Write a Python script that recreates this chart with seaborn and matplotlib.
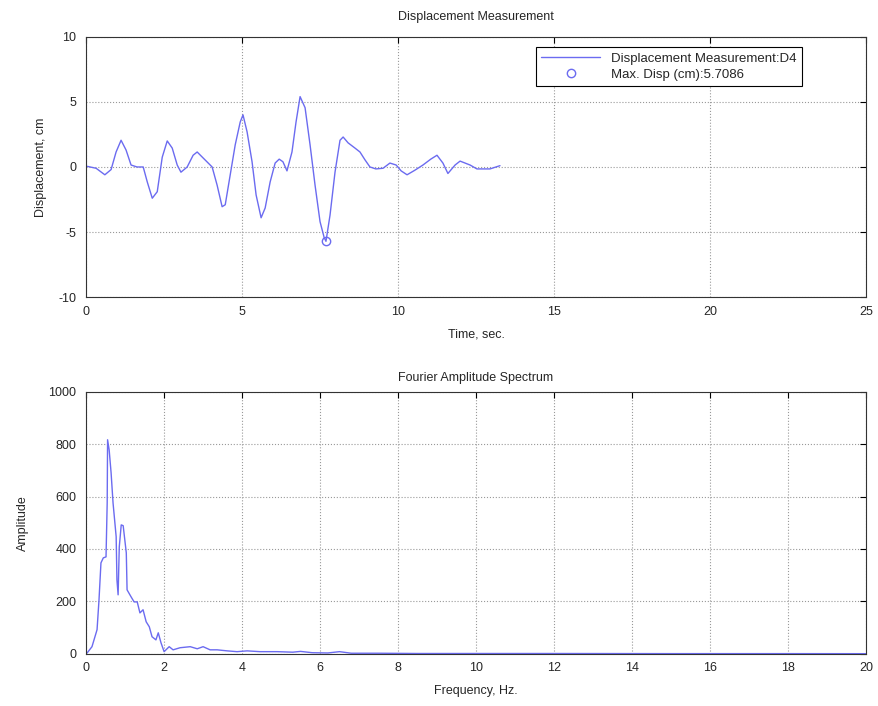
import matplotlib
matplotlib.use("Agg")
import matplotlib.pyplot as plt
import seaborn as sns
import pandas as pd

# displacement record (time in s, displacement in cm)
time_s = [0.0, 0.03, 0.32, 0.6, 0.8, 0.96, 1.12, 1.28, 1.44, 1.63, 1.83, 1.96, 2.12,
          2.28, 2.44, 2.6, 2.76, 2.92, 3.04, 3.24, 3.43, 3.56, 3.81, 4.04, 4.2, 4.36,
          4.46, 4.62, 4.78, 4.94, 5.03, 5.16, 5.32, 5.45, 5.61, 5.74, 5.9, 6.06, 6.19,
          6.31, 6.44, 6.6, 6.73, 6.86, 7.02, 7.18, 7.34, 7.5, 7.63, 7.69, 7.82, 7.98,
          8.14, 8.24, 8.4, 8.62, 8.78, 8.94, 9.1, 9.29, 9.52, 9.74, 9.94, 10.1, 10.29,
          10.54, 10.8, 11.05, 11.25, 11.44, 11.6, 11.83, 11.99, 12.31, 12.53, 12.95, 13.27]
disp_cm = [0.0, 0.05, -0.1, -0.6, -0.2, 1.15, 2.05, 1.3, 0.15, 0.0, 0.0, -1.15, -2.4,
           -1.9, 0.75, 2.0, 1.45, 0.15, -0.4, 0.0, 0.9, 1.15, 0.55, 0.0, -1.4, -3.05,
           -2.9, -0.6, 1.7, 3.45, 4.0, 2.7, 0.4, -2.15, -3.9, -3.15, -1.15, 0.3, 0.6,
           0.4, -0.3, 1.15, 3.45, 5.4, 4.55, 1.7, -1.4, -4.2, -5.4, -5.7086, -3.7, -0.4,
           2.05, 2.3, 1.85, 1.45, 1.15, 0.55, 0.0, -0.15, -0.1, 0.3, 0.15, -0.3, -0.6,
           -0.25, 0.15, 0.6, 0.9, 0.3, -0.5, 0.15, 0.45, 0.15, -0.15, -0.15, 0.1]
max_time = 7.69
max_disp = -5.7086

# Fourier amplitude spectrum
freq_hz = [0.0, 0.03, 0.15, 0.28, 0.33, 0.38, 0.44, 0.51, 0.54, 0.55, 0.59, 0.64, 0.69,
           0.77, 0.79, 0.82, 0.85, 0.9, 0.95, 1.03, 1.05, 1.15, 1.23, 1.31, 1.38, 1.46,
           1.54, 1.62, 1.69, 1.79, 1.85, 1.92, 2.0, 2.13, 2.23, 2.41, 2.67, 2.85, 3.0,
           3.18, 3.36, 3.62, 3.87, 4.13, 4.46, 4.9, 5.3, 5.5, 5.8, 6.2, 6.5, 6.8, 7.5,
           8.5, 10.0, 12.0, 15.0, 18.0, 20.0]
amplitude = [0, 4, 27, 92, 206, 347, 366, 370, 576, 817, 779, 691, 576,
             447, 282, 225, 408, 492, 489, 385, 244, 218, 198, 198, 156, 168,
             122, 103, 65, 53, 80, 42, 8, 27, 15, 23, 27, 19, 27,
             15, 15, 11, 8, 11, 8, 8, 6, 9, 4, 3, 8, 2, 2,
             1, 1, 1, 0.5, 0.5, 0.3]

disp = pd.DataFrame({"Time": time_s, "Disp": disp_cm})
spec = pd.DataFrame({"Freq": freq_hz, "Amp": amplitude})

sns.set_style("white")
plt.rcParams["font.family"] = ["Liberation Sans", "DejaVu Sans"]
plt.rcParams["font.size"] = 9
plt.rcParams["axes.unicode_minus"] = False
line_color = "#6b6bf0"

fig = plt.figure(figsize=(8.79, 7.06), dpi=100)
ax1 = fig.add_axes([0.098, 0.579, 0.887, 0.369])
ax2 = fig.add_axes([0.098, 0.074, 0.887, 0.371])

sns.lineplot(data=disp, x="Time", y="Disp", ax=ax1, sort=False, estimator=None,
             color=line_color, linewidth=1.0, label="Displacement Measurement:D4")
ax1.plot([max_time], [max_disp], "o", mfc="none", mec=line_color, ms=6, mew=1.0,
         label="Max. Disp (cm):5.7086")
ax1.set_xlim(0, 25)
ax1.set_ylim(-10, 10)
ax1.set_xticks([0, 5, 10, 15, 20, 25])
ax1.set_yticks([-10, -5, 0, 5, 10])
ax1.set_title("Displacement Measurement", fontsize=9, pad=12)
ax1.set_xlabel("Time, sec.", fontsize=9, labelpad=8)
ax1.set_ylabel("Displacement, cm", fontsize=9, labelpad=8)
leg = ax1.legend(loc="upper right", bbox_to_anchor=(0.926, 0.985), fontsize=9.5,
                 fancybox=False, edgecolor="black", framealpha=1, handlelength=4.5,
                 borderpad=0.4, labelspacing=0.3)
leg.get_frame().set_linewidth(0.8)

sns.lineplot(data=spec, x="Freq", y="Amp", ax=ax2, sort=False, estimator=None,
             color=line_color, linewidth=1.0)
ax2.set_xlim(0, 20)
ax2.set_ylim(0, 1000)
ax2.set_xticks(range(0, 21, 2))
ax2.set_yticks(range(0, 1001, 200))
ax2.set_title("Fourier Amplitude Spectrum", fontsize=9, pad=8)
ax2.set_xlabel("Frequency, Hz.", fontsize=9, labelpad=8)
ax2.set_ylabel("Amplitude", fontsize=9, labelpad=14)

for ax in (ax1, ax2):
    ax.grid(True, linestyle=":", color="#999999", linewidth=0.8)
    ax.tick_params(direction="in", length=4, top=True, right=True, labelsize=9,
                   color="black")
    ax.tick_params(axis="y", pad=7)
    ax.tick_params(axis="x", pad=6)
    for s in ax.spines.values():
        s.set_color("#333333")
        s.set_linewidth(0.8)

fig.savefig("out.png", dpi=100)
